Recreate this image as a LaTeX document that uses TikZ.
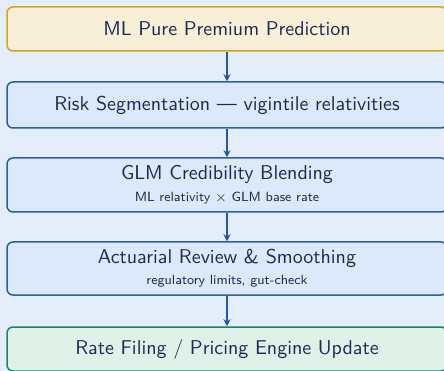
\documentclass[tikz,border=0pt]{standalone}
\usetikzlibrary{arrows.meta}
\definecolor{bgc}{RGB}{228,238,251}
\definecolor{goldfill}{RGB}{248,239,216}
\definecolor{goldline}{RGB}{216,163,30}
\definecolor{bluefill}{RGB}{220,233,250}
\definecolor{blueline}{RGB}{44,94,160}
\definecolor{greenfill}{RGB}{224,241,234}
\definecolor{greenline}{RGB}{24,134,100}
\definecolor{arrowc}{RGB}{38,88,160}
\definecolor{txt}{RGB}{28,44,80}
\newcommand{\MainT}[1]{\scalebox{2.0}{\normalsize #1}}
\newcommand{\SubT}[1]{\scalebox{1.9}{\scriptsize #1}}
\tikzset{
  stagebox/.style={draw, rounded corners=6pt, line width=1.5pt, minimum width=440pt,
    inner sep=0pt, align=center, text=txt, font=\sffamily},
  gold/.style={stagebox, fill=goldfill, draw=goldline},
  blue/.style={stagebox, fill=bluefill, draw=blueline},
  green/.style={stagebox, fill=greenfill, draw=greenline},
  flow/.style={draw=arrowc, line width=1.6pt, -{Stealth[length=7pt,width=7pt]}}
}
\begin{document}
\begin{tikzpicture}[x=1pt,y=-1pt]
\path[use as bounding box, fill=bgc] (0,0) rectangle (444,371);
\begin{scope}
\clip (0,0) rectangle (444,371);
\node[gold, minimum height=44pt] (n1) at (227,29) {\MainT{ML Pure Premium Prediction}};
\node[blue, minimum height=46pt] (n2) at (227,105) {\MainT{Risk Segmentation --- vigintile relativities}};
\node[blue, minimum height=54pt] (n3) at (227,185) {\MainT{GLM Credibility Blending}\\[7pt]\SubT{ML relativity $\times$ GLM base rate}};
\node[blue, minimum height=53pt] (n4) at (227,268.5) {\MainT{Actuarial Review \& Smoothing}\\[7pt]\SubT{regulatory limits, gut-check}};
\node[green, minimum height=44pt] (n5) at (227,349) {\MainT{Rate Filing / Pricing Engine Update}};
\draw[flow] (n1) -- (n2);
\draw[flow] (n2) -- (n3);
\draw[flow] (n3) -- (n4);
\draw[flow] (n4) -- (n5);
\end{scope}
\end{tikzpicture}
\end{document}
